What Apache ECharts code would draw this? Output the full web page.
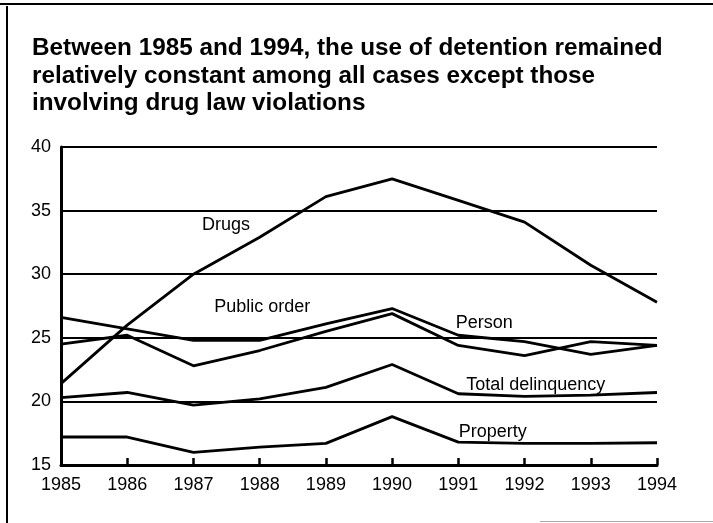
<!DOCTYPE html>
<html>
<head>
<meta charset="utf-8">
<script src="https://cdn.jsdelivr.net/npm/echarts@6/dist/echarts.min.js"></script>
<style>
html,body{margin:0;padding:0;background:#fff;}
#c{width:713px;height:523px;}
</style>
</head>
<body>
<div id="c"></div>
<script>
const years = [1985, 1986, 1987, 1988, 1989, 1990, 1991, 1992, 1993, 1994];
const drugs = [21.4, 26.0, 30.0, 32.9, 36.1, 37.5, 35.8, 34.1, 30.7, 27.8];
const publicOrder = [26.6, 25.7, 24.8, 24.8, 26.1, 27.3, 25.2, 24.7, 23.7, 24.4];
const person = [24.5, 25.2, 22.8, 24.0, 25.5, 26.9, 24.4, 23.6, 24.7, 24.4];
const totalDelinquency = [20.3, 20.7, 19.7, 20.2, 21.1, 22.9, 20.6, 20.4, 20.5, 20.7];
const property = [17.2, 17.2, 16.0, 16.4, 16.7, 18.8, 16.8, 16.7, 16.7, 16.75];
const seriesNames = ['Drugs', 'Public order', 'Person', 'Total delinquency', 'Property'];
const labelPos = [[1987.49, 33.9], [1988.04, 27.4], [1991.39, 26.15], [1992.17, 21.3], [1991.52, 17.6]];
const titleText = 'Between 1985 and 1994, the use of detention remained\nrelatively constant among all cases except those\ninvolving drug law violations';

const FONT = '"Liberation Sans", Arial, Helvetica, sans-serif';
const allData = [drugs, publicOrder, person, totalDelinquency, property];

const chart = echarts.init(document.getElementById('c'), null, {renderer: 'canvas'});
chart.setOption({
  backgroundColor: '#fff',
  animation: false,
  title: {
    text: titleText,
    left: 32, top: 35,
    padding: 0,
    textStyle: {fontFamily: FONT, fontSize: 24.3, fontWeight: 'bold', color: '#000', lineHeight: 27.5}
  },
  grid: {left: 61, right: 56, top: 147, bottom: 58, containLabel: false},
  xAxis: {
    type: 'value', min: 1985, max: 1994, interval: 1,
    axisLine: {show: true, lineStyle: {color: '#000', width: 3}},
    axisTick: {show: true, inside: true, length: 7, lineStyle: {color: '#000', width: 2.5}},
    axisLabel: {fontFamily: FONT, fontSize: 18, color: '#000', margin: 11, formatter: v => String(v)},
    splitLine: {show: false}
  },
  yAxis: {
    type: 'value', min: 15, max: 40, interval: 5,
    axisLine: {show: true, lineStyle: {color: '#000', width: 3}},
    axisTick: {show: false},
    axisLabel: {fontFamily: FONT, fontSize: 18, color: '#000', margin: 10},
    splitLine: {show: true, lineStyle: {color: '#000', width: 1.8}}
  },
  series: seriesNames.map((name, i) => ({
    name: name,
    type: 'line',
    data: years.map((y, j) => [y, allData[i][j]]),
    symbol: 'none',
    lineStyle: {color: '#000', width: 2.8},
    z: 3,
    markPoint: {
      symbol: 'circle', symbolSize: 0,
      label: {show: true, position: 'inside', formatter: name, fontFamily: FONT, fontSize: 18, color: '#000'},
      data: [{coord: labelPos[i]}]
    }
  })),
  graphic: [
    {type: 'line', shape: {x1: 0, y1: 4, x2: 713, y2: 4}, style: {stroke: '#000', lineWidth: 2}},
    {type: 'line', shape: {x1: 7, y1: 6, x2: 7, y2: 523}, style: {stroke: '#000', lineWidth: 2}},
    {type: 'line', shape: {x1: 540, y1: 521.5, x2: 713, y2: 521.5}, style: {stroke: '#aaa', lineWidth: 1}}
  ]
});
</script>
</body>
</html>
